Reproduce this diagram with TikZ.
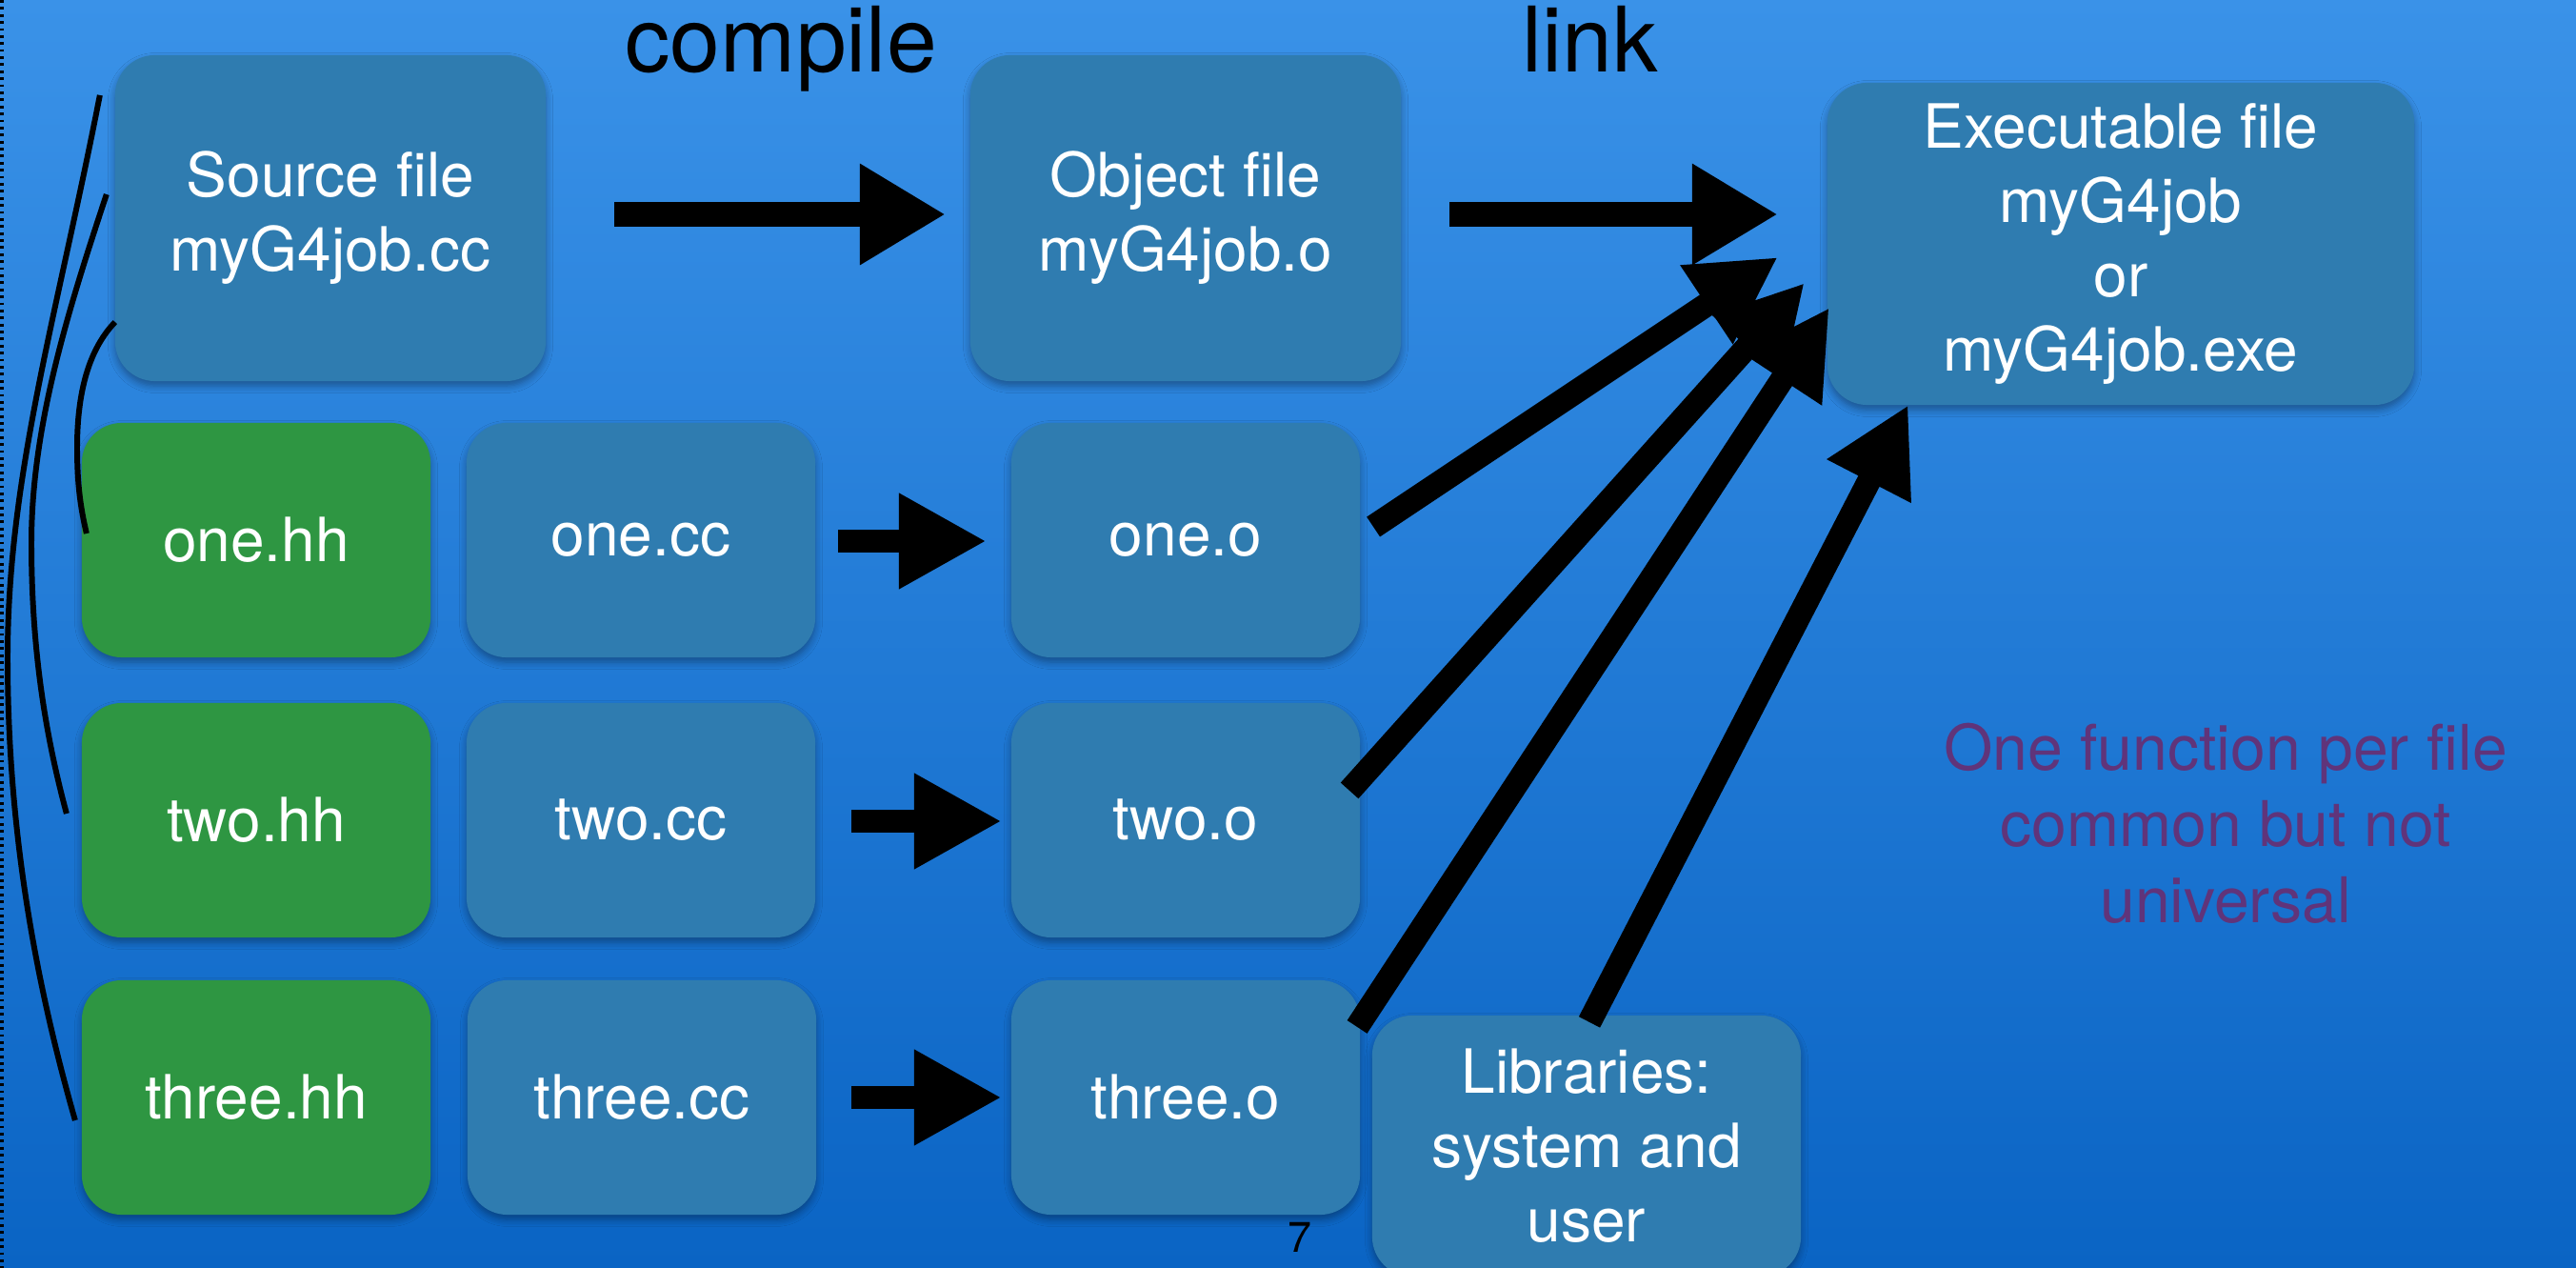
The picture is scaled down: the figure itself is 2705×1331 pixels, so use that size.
\documentclass[tikz,border=0pt]{standalone}
\usepackage{fontspec}
\setmainfont{TeX Gyre Heros}
\usetikzlibrary{arrows.meta,calc,shadows.blur}

\definecolor{bgtop}{RGB}{58,146,232}
\definecolor{bgbot}{RGB}{10,100,196}
\definecolor{filebox}{RGB}{47,124,176}
\definecolor{headerbox}{RGB}{46,150,66}
\definecolor{notetext}{RGB}{96,52,122}

\tikzset{
  card/.style={rounded corners=0.42cm, inner sep=0pt, outer sep=0pt,
    align=center, text=white, font=\fontsize{18.2}{22.2}\selectfont,
    blur shadow={shadow xshift=0pt, shadow yshift=-0.05cm,
      shadow blur steps=6, shadow opacity=35}},
  srcbox/.style={card, fill=filebox},
  hdrbox/.style={card, fill=headerbox},
  wide/.style={minimum width=4.52cm, minimum height=3.42cm},
  small/.style={minimum width=3.66cm, minimum height=2.46cm},
  bigarrow/.style={line width=0.26cm, -{Triangle[length=0.9cm,width=1.0cm]}},
  smallarrow/.style={line width=0.24cm, -{Triangle[length=0.92cm,width=0.94cm]}},
  linkarrow/.style={line width=0.25cm, -{Triangle[length=0.9cm,width=0.93cm]}},
  brace/.style={line width=1.7pt, black},
  steplabel/.style={anchor=base, font=\fontsize{27}{32}\selectfont},
}

\begin{document}
\begin{tikzpicture}[x=0.01cm, y=-0.01cm]
  % background
  \useasboundingbox (0,0) rectangle (2705,1331);
  \shade[top color=bgtop, bottom color=bgbot] (0,0) rectangle (2705,1331);
  \draw[line width=0.9pt, dash pattern=on 0.8pt off 1.3pt] (2,0) -- (2,1331);

  % step labels
  \node[steplabel] (lblc) at (820,76) {compile};
  \node[steplabel] (lbll) at (1670,76) {link};

  % main program files
  \node[srcbox, wide] (src) at (347,229) {Source file\\myG4job.cc};
  \node[srcbox, wide] (obj) at (1245,229) {Object file\\myG4job.o};
  \node[srcbox, minimum width=6.16cm, minimum height=3.38cm] (exe) at (2227,256)
    {Executable file\\myG4job\\or\\myG4job.exe};

  % headers, sources and objects
  \node[hdrbox, small] (onehh) at (269,567) {one.hh};
  \node[srcbox, small] (onecc) at (673,567) {one.cc};
  \node[srcbox, small] (oneo) at (1245,567) {one.o};

  \node[hdrbox, small] (twohh) at (269,861) {two.hh};
  \node[srcbox, small] (twocc) at (673,861) {two.cc};
  \node[srcbox, small] (twoo) at (1245,861) {two.o};

  \node[hdrbox, small] (threehh) at (269,1152) {three.hh};
  \node[srcbox, small] (threecc) at (674,1152) {three.cc};
  \node[srcbox, small] (threeo) at (1245,1152) {three.o};

  \node[srcbox, minimum width=4.5cm, minimum height=2.74cm] (libs) at (1666,1203)
    {Libraries:\\system and\\user};

  % note and page number
  \node[text=notetext, align=center, font=\fontsize{18.8}{22.8}\selectfont] (note)
    at (2337,864) {One function per file\\common but not\\universal};
  \node[anchor=base, inner sep=0pt, font=\fontsize{12.8}{15}\selectfont] (pg)
    at (1365,1314) {7};

  % braces from the source file to its headers
  \coordinate (ba0) at ($(src.north west)+(-16,42)$);
  \coordinate (ba1) at ($(threehh.west)+(-7,24)$);
  \coordinate (bb0) at ($(src.west)+(-9,-25)$);
  \coordinate (bb1) at ($(twohh.west)+(-16,-7)$);
  \coordinate (bc0) at ($(src.south west)+(0,-62)$);
  \coordinate (bc1) at ($(onehh.west)+(5,-7)$);
  \draw[brace] (ba0) .. controls (60,330) and (8,500) .. (8,690)
               .. controls (8,880) and (40,1040) .. (ba1);
  \draw[brace] (bb0) .. controls (70,330) and (33,450) .. (33,570)
               .. controls (33,690) and (50,780) .. (bb1);
  \draw[brace] (bc0) .. controls (90,370) and (81,420) .. (81,470)
               .. controls (81,510) and (85,535) .. (bc1);

  % compile and link arrows
  \draw[bigarrow] ($(src.east)+(72,-4)$) -- ($(obj.west)+(-26,-4)$);
  \draw[bigarrow] ($(obj.east)+(51,-4)$) -- ($(exe.west)+(-52,-31)$);

  \draw[smallarrow] ($(onecc.east)+(24,1)$) -- ($(oneo.west)+(-26,1)$);
  \draw[smallarrow] ($(twocc.east)+(38,1)$) -- ($(twoo.west)+(-10,1)$);
  \draw[smallarrow] ($(threecc.east)+(37,0)$) -- ($(threeo.west)+(-10,0)$);

  \draw[linkarrow] ($(oneo.east)+(14,-14)$) -- ($(exe.west)+(-52,14)$);
  \draw[linkarrow] ($(twoo.north east)+(-11,92)$) -- ($(exe.west)+(-24,41)$);
  \draw[linkarrow] ($(threeo.north east)+(-3,49)$) -- ($(exe.west)+(2,67)$);
  \draw[linkarrow] ($(libs.north)+(3,7)$) -- ($(exe.south west)+(85,0)$);
\end{tikzpicture}
\end{document}
